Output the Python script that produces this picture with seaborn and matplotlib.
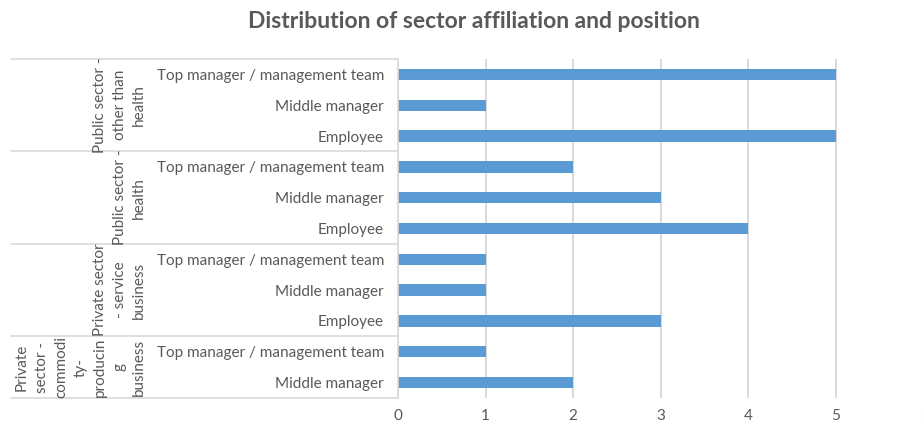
import matplotlib
matplotlib.use("Agg")
import matplotlib.pyplot as plt
from matplotlib.transforms import blended_transform_factory
import pandas as pd
import seaborn as sns

# Chart data, listed from the top row downwards
sectors = [
    "Public sector -\nother than\nhealth",
    "Public sector -\nhealth",
    "Private sector\n- service\nbusiness",
    "Private\nsector -\ncommodi\nty-\nproducin\ng\nbusiness",
]
positions = [
    ["Top manager / management team", "Middle manager", "Employee"],
    ["Top manager / management team", "Middle manager", "Employee"],
    ["Top manager / management team", "Middle manager", "Employee"],
    ["Top manager / management team", "Middle manager"],
]
counts = [
    [5, 1, 5],
    [2, 3, 4],
    [1, 1, 3],
    [1, 2],
]
x_ticks = [0, 1, 2, 3, 4, 5, 6]
title = "Distribution of sector affiliation and position"

# Build one row per (sector, position) pair
rows = []
for gi, (sec, pos_list, val_list) in enumerate(zip(sectors, positions, counts)):
    for p, v in zip(pos_list, val_list):
        rows.append({"key": f"{gi}|{p}", "sector": sec, "position": p, "count": v})
df = pd.DataFrame(rows)

sns.set_theme(style="white")
plt.rcParams["font.family"] = ["Lato", "DejaVu Sans"]

TEXT = "#595959"
GRID = "#d9d9d9"
BAR = "#5b9bd5"

W, H = 921, 424
fig = plt.figure(figsize=(W / 100, H / 100), dpi=100)
# axes in pixel terms: x from 398 to ~924, y from 59 to 398
left, right, top, bottom = 398, 923.6, 59, 398
ax = fig.add_axes([left / W, 1 - bottom / H, (right - left) / W, (bottom - top) / H])

sns.barplot(data=df, x="count", y="key", order=list(df["key"]), orient="h",
            color=BAR, saturation=1, width=0.37, ax=ax, linewidth=0)

n_rows = len(df)
ax.set_xlim(x_ticks[0], x_ticks[-1])
ax.set_xticks(x_ticks)
ax.set_xticklabels([str(t) for t in x_ticks])
ax.set_yticks(range(n_rows))
ax.set_yticklabels(df["position"])
ax.set_xlabel("")
ax.set_ylabel("")

ax.grid(axis="x", color=GRID, linewidth=1.4)
ax.set_axisbelow(True)
for s in ["top", "right", "bottom"]:
    ax.spines[s].set_visible(False)
ax.spines["left"].set_color(GRID)
ax.spines["left"].set_linewidth(1.2)

ax.tick_params(axis="y", length=0, pad=10, labelsize=11, labelcolor=TEXT)
ax.tick_params(axis="x", length=0, pad=8, labelsize=11, labelcolor=TEXT)

# Multi-level category table: separators and rotated sector labels
tr = blended_transform_factory(ax.transAxes, ax.transData)
x_table = (11 - left) / (right - left)
x_label = (146 - left) / (right - left)
start = 0
bounds = [-0.5]
for sec, pos_list in zip(sectors, positions):
    n = len(pos_list)
    end = start + n
    bounds.append(end - 0.5)
    ax.text(x_label, (start + end - 1) / 2, sec, transform=tr, rotation=90,
            ha="right", va="center", multialignment="center",
            fontsize=11, color=TEXT, linespacing=1.5)
    start = end
for b in bounds:
    ax.plot([x_table, 0], [b, b], transform=tr, color=GRID, linewidth=1.2,
            clip_on=False, scalex=False, scaley=False)

ax.set_ylim(n_rows - 0.5, -0.5)

fig.text(474 / W, 1 - 22 / H, title, ha="center", va="center",
         fontsize=16.5, fontweight="bold", color=TEXT)

fig.savefig("out.png", dpi=100)
